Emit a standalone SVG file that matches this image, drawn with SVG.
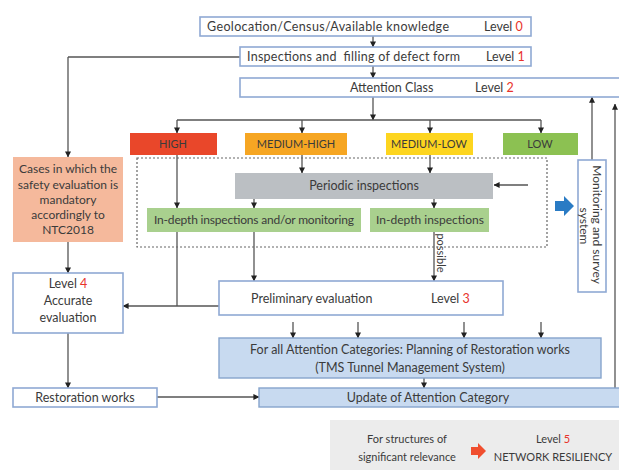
<svg xmlns="http://www.w3.org/2000/svg" width="619" height="470" viewBox="0 0 619 470">
<defs>
<marker id="ah" viewBox="0 0 8 8" refX="7.5" refY="4" markerWidth="6" markerHeight="6" orient="auto" markerUnits="userSpaceOnUse">
<path d="M0,0 L8,4 L0,8 z" fill="#222"/>
</marker>
<style>
text{font-family:Lato,"Open Sans","Liberation Sans",sans-serif;fill:#3b3b3b;font-size:12.5px}
.c{text-anchor:middle}
.r{fill:#e8322b}
.wb{fill:#fff;stroke:#8fa9d4;stroke-width:1.6}
.bb{fill:#c8daf0;stroke:#86a4cc;stroke-width:1.4}
.ln{fill:none;stroke:#555;stroke-width:1.3}
.ar{fill:none;stroke:#555;stroke-width:1.3;marker-end:url(#ah)}
.sm{font-size:11px}
.md{font-size:12px}
</style>
</defs>
<rect width="619" height="470" fill="#fff"/>

<g id="connectors">
<path class="ar" d="M373,36 V47"/>
<path class="ar" d="M373,66 V78"/>
<path class="ar" d="M373,97 V120"/>
<path class="ln" d="M177,120 H541"/>
<path class="ar" d="M177,120 V133"/>
<path class="ar" d="M302,120 V133"/>
<path class="ar" d="M430,120 V133"/>
<path class="ar" d="M541,120 V133"/>
<path class="ln" d="M240,57 H68"/>
<path class="ar" d="M68,57 V157"/>
<path class="ar" d="M177,155 V208"/>
<path class="ar" d="M302,155 V173"/>
<path class="ar" d="M430,155 V173"/>
<path class="ar" d="M528,185 H494"/>
<path class="ar" d="M254,199 V208"/>
<path class="ar" d="M434,199 V208"/>
<path class="ln" d="M177,232 V306"/>
<path class="ar" d="M254,232 V281"/>
<path class="ar" d="M434,232 V281"/>
<path class="ar" d="M219,306 H123"/>
<path class="ar" d="M68,242 V273"/>
<path class="ar" d="M68,333 V388"/>
<path class="ar" d="M157,397 H259"/>
<path class="ar" d="M293,322 V338"/>
<path class="ar" d="M358,322 V338"/>
<path class="ar" d="M464,322 V338"/>
<path class="ar" d="M541,322 V338"/>
<path class="ar" d="M424,378 V388"/>
<path class="ar" d="M592,160 V97"/>
<path class="ar" d="M615,397 V104"/>
<text class="sm" transform="translate(437,253) rotate(90)" text-anchor="middle">possible</text>
</g>

<g id="n-level0">
<rect class="wb" x="200" y="17" width="331" height="19"/>
<text x="207" y="31" textLength="242">Geolocation/Census/Available knowledge</text>
<text x="484" y="31">Level <tspan class="r">0</tspan></text>
</g>
<g id="n-level1">
<rect class="wb" x="240" y="47" width="291" height="19"/>
<text x="247" y="61" xml:space="preserve" textLength="213">Inspections and  filling of defect form</text>
<text x="486" y="61">Level <tspan class="r">1</tspan></text>
</g>
<g id="n-level2">
<rect class="wb" x="240" y="78" width="385" height="19"/>
<text x="350" y="92">Attention Class</text>
<text x="475" y="92">Level <tspan class="r">2</tspan></text>
</g>

<g id="n-high"><rect x="130" y="133" width="87" height="22" fill="#e9472a"/><text class="c sm" x="173" y="148">HIGH</text></g>
<g id="n-medhigh"><rect x="245" y="133" width="102" height="22" fill="#f6a623"/><text class="c sm" x="296" y="148">MEDIUM-HIGH</text></g>
<g id="n-medlow"><rect x="386" y="133" width="87" height="22" fill="#fdd51f"/><text class="c sm" x="429" y="148">MEDIUM-LOW</text></g>
<g id="n-low"><rect x="503" y="133" width="75" height="22" fill="#8cc152"/><text class="c sm" x="540" y="148">LOW</text></g>

<g id="n-cases">
<rect x="13" y="157" width="110" height="85" fill="#f5b99c"/>
<text class="c md" x="68" y="173">Cases in which the</text>
<text class="c md" x="68" y="189">safety evaluation is</text>
<text class="c md" x="68" y="204">mandatory</text>
<text class="c md" x="68" y="219">accordingly to</text>
<text class="c md" x="68" y="234">NTC2018</text>
</g>

<g id="n-group">
<rect x="137" y="158" width="410" height="89" fill="none" stroke="#666" stroke-width="1.2" stroke-dasharray="2,2"/>
</g>
<g id="n-periodic"><rect x="235" y="173" width="258" height="26" fill="#bbbfc3"/><text class="c" x="364" y="190">Periodic inspections</text></g>
<g id="n-indepth1"><rect x="147" y="208" width="214" height="24" fill="#a9d08e"/><text class="c md" x="254" y="224" textLength="200">In-depth inspections and/or monitoring</text></g>
<g id="n-indepth2"><rect x="370" y="208" width="119" height="24" fill="#a9d08e"/><text class="c md" x="430" y="224">In-depth inspections</text></g>

<g id="n-bluearrow"><path d="M555,201 H564 V196 L574,206 L564,216 V211 H555 z" fill="#2a7bc4"/></g>

<g id="n-monitoring">
<rect class="wb" x="578" y="160" width="28" height="132"/>
<text class="md" transform="translate(593,226) rotate(90)" text-anchor="middle">
<tspan x="0" y="0">Monitoring and survey</tspan>
<tspan x="0" y="13">system</tspan>
</text>
</g>

<g id="n-level4">
<rect class="wb" x="13" y="273" width="110" height="60"/>
<text class="c" x="68" y="288">Level <tspan class="r">4</tspan></text>
<text class="c" x="68" y="305">Accurate</text>
<text class="c" x="68" y="322">evaluation</text>
</g>

<g id="n-level3">
<rect class="wb" x="219" y="281" width="284" height="34"/>
<text x="251" y="303">Preliminary evaluation</text>
<text x="431" y="303">Level <tspan class="r">3</tspan></text>
</g>

<g id="n-planning">
<rect class="bb" x="219" y="338" width="382" height="40"/>
<text class="c" x="410" y="354">For all Attention Categories: Planning of Restoration works</text>
<text class="c" x="410" y="372">(TMS Tunnel Management System)</text>
</g>

<g id="n-restoration">
<rect class="wb" x="13" y="388" width="144" height="19"/>
<text class="c" x="85" y="402">Restoration works</text>
</g>

<g id="n-update">
<rect class="bb" x="259" y="388" width="370" height="19"/>
<text class="c" x="428" y="402">Update of Attention Category</text>
</g>

<g id="n-level5">
<rect x="330" y="420" width="289" height="50" fill="#ececec"/>
<text class="c sm" x="407" y="443">For structures of</text>
<text class="c sm" x="407" y="461">significant relevance</text>
<path d="M471,447 H478 V443 L486,451 L478,459 V455 H471 z" fill="#f04e2e"/>
<text class="c sm" x="553" y="443">Level <tspan class="r">5</tspan></text>
<text class="c sm" x="553" y="461">NETWORK RESILIENCY</text>
</g>
</svg>
